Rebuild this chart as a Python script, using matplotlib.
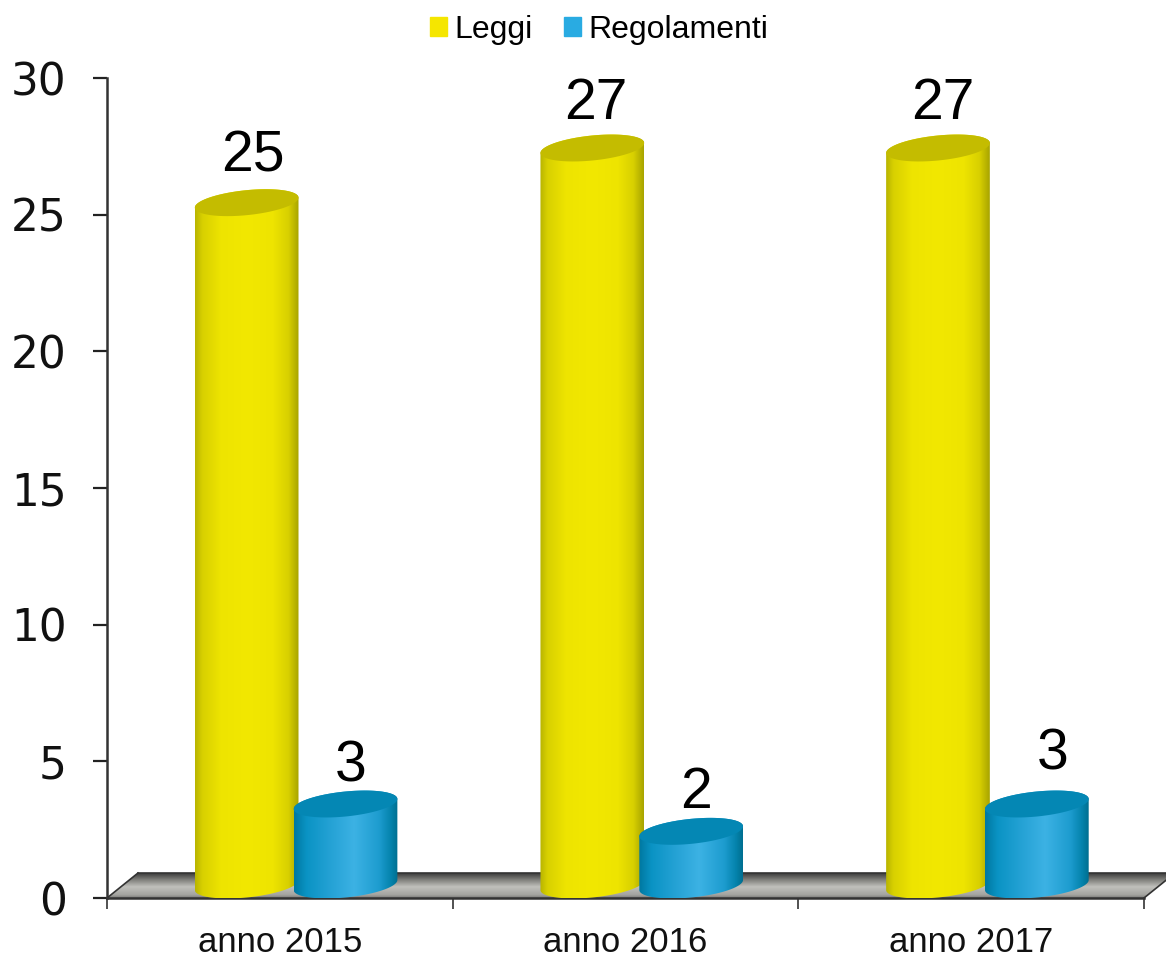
import numpy as np
import matplotlib
matplotlib.use('Agg')
import matplotlib.pyplot as plt
from matplotlib.colors import LinearSegmentedColormap
from matplotlib.patches import Polygon, Rectangle

anni = ['anno 2015', 'anno 2016', 'anno 2017']
leggi = [25, 27, 27]
regolamenti = [3, 2, 3]
nomi_serie = ['Leggi', 'Regolamenti']
tick_y = [0, 5, 10, 15, 20, 25, 30]

# conversione pixel -> dati
PX_X = 3 / 1037
PX_Y = 30 / 820
SEMI_B = 12.5 * PX_Y
INCL = 5 * PX_Y

plt.rcParams['font.family'] = ['Liberation Sans', 'DejaVu Sans']

cmap_giallo = LinearSegmentedColormap.from_list('giallo', [
    (0, '#b8b400'), (0.07, '#d8d000'), (0.25, '#eee400'), (0.5, '#f2e800'),
    (0.75, '#eee400'), (0.9, '#d8d000'), (1, '#a8a400')])
cmap_blu = LinearSegmentedColormap.from_list('blu', [
    (0, '#0078a0'), (0.12, '#0a93c4'), (0.4, '#2aa5d8'), (0.58, '#3cb2e4'),
    (0.82, '#1d9ccf'), (0.93, '#0584ae'), (1, '#006f90')])
cmap_base = LinearSegmentedColormap.from_list('base', [
    (0, '#3c3c3c'), (0.25, '#7c7c78'), (0.55, '#c0c0bc'), (0.88, '#a4a4a0'), (1, '#7a7a78')])


def ellisse(cx, cy, larghezza, inizio=0, fine=2 * np.pi):
    t = np.linspace(inizio, fine, 121)
    x = cx + larghezza / 2 * np.cos(t)
    y = cy + SEMI_B * np.sin(t) + INCL * np.cos(t)
    return x, y


def cilindro(ax, cx, valore, larghezza, cmap, colore_top):
    # il centro del cerchio sta un po' sopra il valore
    cy_top = valore + 12 * PX_Y
    cy_base = 13 * PX_Y
    x_top, y_top = ellisse(cx, cy_top, larghezza)
    # silhouette: meta' inferiore della base + lati + meta' superiore del top
    xb, yb = ellisse(cx, cy_base, larghezza, np.pi, 2 * np.pi)
    xt, yt = ellisse(cx, cy_top, larghezza, 0, np.pi)
    verts = np.column_stack([np.r_[xb, xt], np.r_[yb, yt]])
    sagoma = Polygon(verts, closed=True, facecolor='none', edgecolor='none', transform=ax.transData)
    ax.add_patch(sagoma)
    grad = np.linspace(0, 1, 256).reshape(1, -1)
    im = ax.imshow(grad, cmap=cmap, aspect='auto', zorder=3, interpolation='bilinear',
                   extent=[cx - larghezza / 2, cx + larghezza / 2, 0, valore + 1])
    im.set_clip_path(sagoma)
    ax.fill(x_top, y_top, color=colore_top, zorder=4, lw=0)


fig = plt.figure(figsize=(11.66, 9.56), dpi=100)
ax = fig.add_axes([107 / 1166, 58 / 956, 1037 / 1166, 820 / 956])

# pavimento
skew = 31 * PX_X
alto = 25 * PX_Y
piano = Polygon([(-0.5, 0), (2.5, 0), (2.5 + skew, alto), (-0.5 + skew, alto)], closed=True,
                facecolor='none', edgecolor='none', clip_on=False)
ax.add_patch(piano)
im = ax.imshow(np.linspace(0, 1, 64).reshape(-1, 1), cmap=cmap_base, aspect='auto', zorder=1,
               extent=[-0.5, 2.5 + skew, 0, alto], origin='upper')
im.set_clip_path(piano)
im.set_clip_box(fig.bbox)
ax.plot([-0.5 + skew, 2.5 + skew], [alto, alto], color='#333333', lw=1.2, zorder=2, clip_on=False)
ax.plot([2.5, 2.5 + skew], [0, alto], color='#333333', lw=1.2, zorder=2, clip_on=False)
ax.plot([-0.5, -0.5 + skew], [0, alto], color='#333333', lw=1.2, zorder=2, clip_on=False)

larghezza = 0.30
pos = np.arange(len(anni))
for i in pos:
    cilindro(ax, i - 0.096, leggi[i], larghezza, cmap_giallo, '#c4bc00')
    cilindro(ax, i + 0.19, regolamenti[i], larghezza, cmap_blu, '#0487b4')

# etichette dei valori (spostamento in pixel, come nell'originale)
sp_leggi = [(6, 58), (3, 56), (5, 56)]
sp_reg = [(5, 50), (5, 50), (16, 62)]
for i in pos:
    ax.annotate(str(leggi[i]), (i - 0.096, leggi[i]), xytext=(sp_leggi[i][0] * 0.72, sp_leggi[i][1] * 0.72),
                textcoords='offset points', ha='center', va='center', fontsize=41, zorder=6,
                annotation_clip=False)
    ax.annotate(str(regolamenti[i]), (i + 0.19, regolamenti[i]), xytext=(sp_reg[i][0] * 0.72, sp_reg[i][1] * 0.72),
                textcoords='offset points', ha='center', va='center', fontsize=41, zorder=6,
                annotation_clip=False)

ax.set_xlim(-0.5, 2.5)
ax.set_ylim(0, 30)
ax.set_yticks(tick_y)
ax.set_yticklabels([str(v) for v in tick_y], family='DejaVu Sans', fontsize=31.5, color='#111111')
ax.set_xticks(pos)
ax.set_xticklabels(anni, fontsize=25, color='#111111')
ax.set_xticks([-0.5, 0.5, 1.5, 2.5], minor=True)
ax.tick_params(axis='x', which='major', length=0, pad=20)
ax.tick_params(axis='x', which='minor', length=8, width=1.2, color='#333333')
ax.tick_params(axis='y', length=10, width=1.6, color='#222222', pad=19)
for lato in ['top', 'right']:
    ax.spines[lato].set_visible(False)
for lato in ['left', 'bottom']:
    ax.spines[lato].set_linewidth(1.8)
    ax.spines[lato].set_color('#333333')

maniglie = [Rectangle((0, 0), 1, 1, color='#f5e600'), Rectangle((0, 0), 1, 1, color='#29abe2')]
fig.legend(maniglie, nomi_serie, loc='center', bbox_to_anchor=(599 / 1166, 1 - 30 / 956), ncols=2,
           frameon=False, fontsize=23, handlelength=0.53, handleheight=0.53,
           handletextpad=0.22, columnspacing=1.0)

fig.savefig('out.png', dpi=100)
